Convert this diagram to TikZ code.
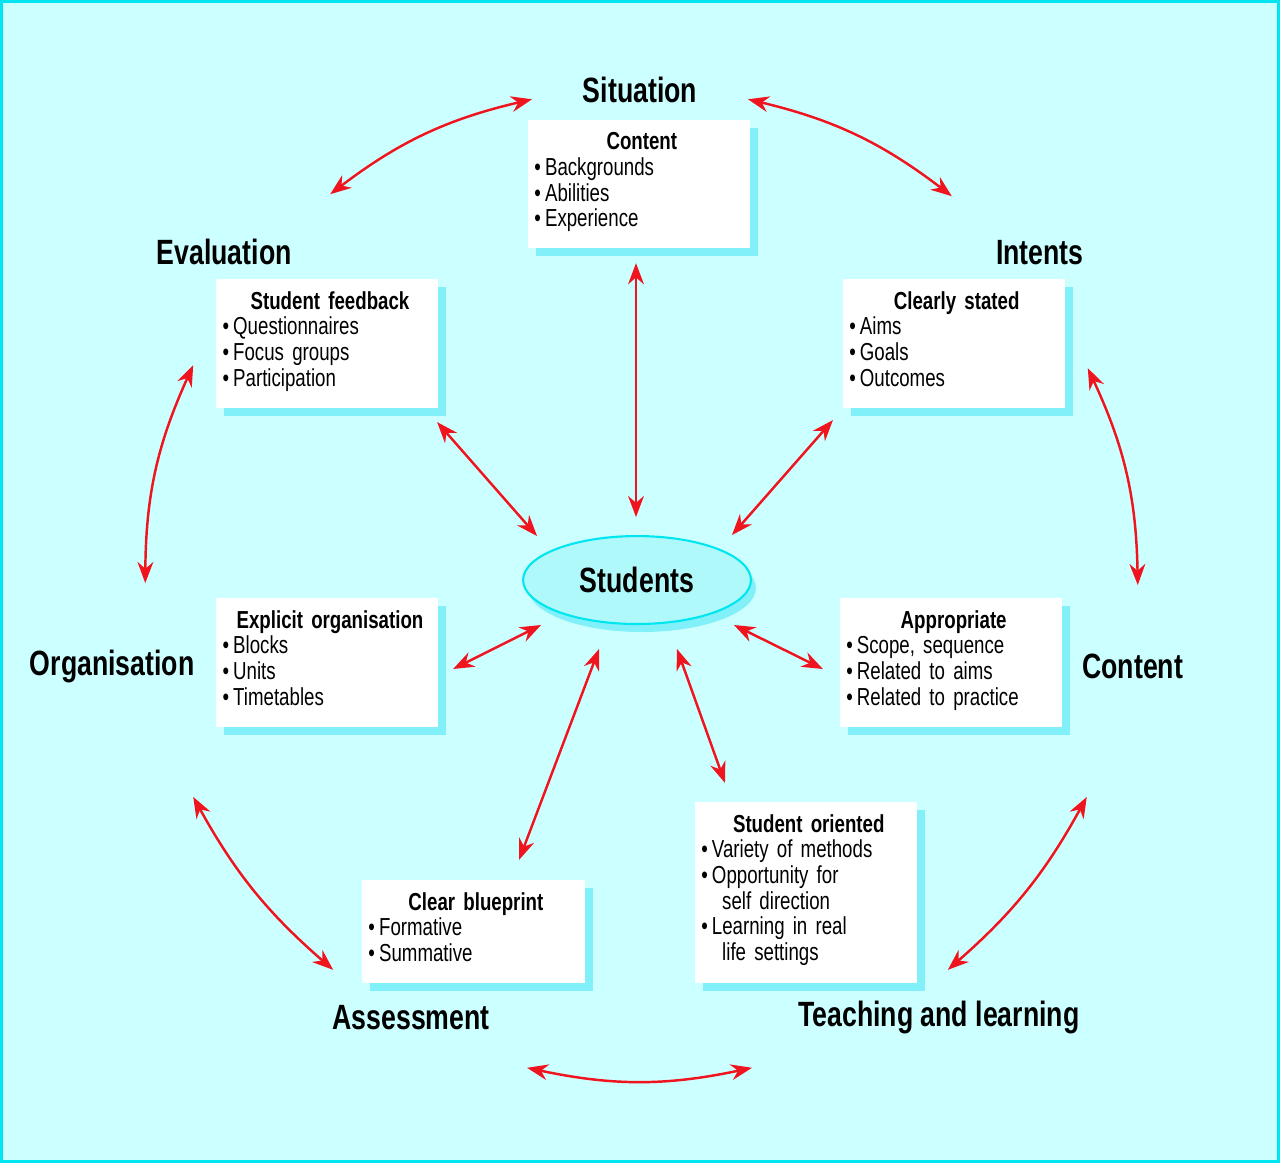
\documentclass[tikz,border=0pt]{standalone}
\usepackage{fontspec}
\setmainfont[FakeStretch=0.76]{Liberation Sans}
\usetikzlibrary{arrows.meta,shapes.geometric}
\definecolor{bg}{RGB}{204,255,255}
\definecolor{cy}{RGB}{0,230,240}
\definecolor{shd}{RGB}{130,240,248}
\definecolor{ar}{RGB}{240,20,30}
\tikzset{
  lbl/.style={font=\bfseries\fontsize{20}{22}\selectfont},
  txt/.style={anchor=north west,inner sep=0pt,text width=4.3cm,font=\fontsize{14}{14.6}\selectfont,align=left},
  arr/.style={ar,line width=1.4pt,{Stealth[length=12pt,width=9pt]}-{Stealth[length=12pt,width=9pt]}}
}
\newcommand{\bt}[1]{\textbullet\,#1\par}
\newcommand{\ttl}[1]{{\centering\bfseries #1\par}}
\begin{document}
\begin{tikzpicture}[x=0.02cm,y=-0.02cm]
\fill[bg] (0,0) rectangle (1280,1163);
\draw[cy,line width=1.5pt] (1,1) rectangle (1279,1162);
\useasboundingbox (0,0) rectangle (1280,1163);
\foreach \n/\a/\b/\c/\d in {bc/528/120/750/248, bf/216/279/438/408, bi/843/279/1065/408, bo/216/598/438/727, ba/840/598/1062/727, bb/362/880/585/983, bs/695/802/917/983}{
  \fill[shd] (\a+8,\b+8) rectangle (\c+8,\d+8);
  \fill[white] (\a,\b) rectangle (\c,\d);
  \coordinate (\n) at (\a+6,\b+12);
}
\node[txt] (tc) at (bc) {\ttl{Content}\bt{Backgrounds}\bt{Abilities}\bt{Experience}};
\node[txt] (tf) at (bf) {\ttl{Student feedback}\bt{Questionnaires}\bt{Focus groups}\bt{Participation}};
\node[txt] (ti) at (bi) {\ttl{Clearly stated}\bt{Aims}\bt{Goals}\bt{Outcomes}};
\node[txt] (to) at (bo) {\ttl{Explicit organisation}\bt{Blocks}\bt{Units}\bt{Timetables}};
\node[txt] (ta) at (ba) {\ttl{Appropriate}\bt{Scope, sequence}\bt{Related to aims}\bt{Related to practice}};
\node[txt] (tb) at (bb) {\ttl{Clear blueprint}\bt{Formative}\bt{Summative}};
\node[txt] (ts) at (bs) {\ttl{Student oriented}\bt{Variety of methods}\bt{Opportunity for\\\hspace*{0.85em}self direction}\bt{Learning in real\\\hspace*{0.85em}life settings}};
\fill[shd] (642,588) ellipse [x radius=114, y radius=44];
\node[draw=cy,line width=1.2pt,fill=bg!60!cy!60,ellipse,minimum width=4.56cm,minimum height=1.76cm,inner sep=0pt,lbl] (st) at (637,580) {Students};
\node[lbl] (lsit) at (640,90) {Situation};
\node[lbl] (leva) at (224,252) {Evaluation};
\node[lbl] (lint) at (1040,252) {Intents};
\node[lbl] (lorg) at (112,666) {Organisation};
\node[lbl] (lcon) at (1133,666) {Content};
\node[lbl] (lass) at (411,1018) {Assessment};
\node[lbl] (ltea) at (939,1018) {Teaching and learning};
\foreach \n/\x/\y in {a1/532/99,a2/330/194,b1/748/99,b2/952/196,c1/193/365,c2/145/583,d1/1088/368,d2/1138/585,e1/193/797,e2/333/970,f1/1087/797,f2/948/970,g1/527/1068,g2/752/1068,
 h1/636/263,h2/636/517,i1/437/422,i2/537/536,j1/833/420,j2/732/535,k1/541/625,k2/453/669,l1/734/625,l2/823/669,m1/599/649,m2/519/860,n1/677/649,n2/725/783}{\coordinate (\n) at (\x,\y);}
\draw[arr] (a1) to[bend right=12] (a2);
\draw[arr] (b1) to[bend left=12] (b2);
\draw[arr] (c1) to[bend right=12] (c2);
\draw[arr] (d1) to[bend left=12] (d2);
\draw[arr] (e1) to[bend right=10] (e2);
\draw[arr] (f1) to[bend left=10] (f2);
\draw[arr] (g1) to[bend right=12] (g2);
\foreach \p in {h,i,j,k,l,m,n}{\draw[arr] (\p1) -- (\p2);}
\end{tikzpicture}
\end{document}
